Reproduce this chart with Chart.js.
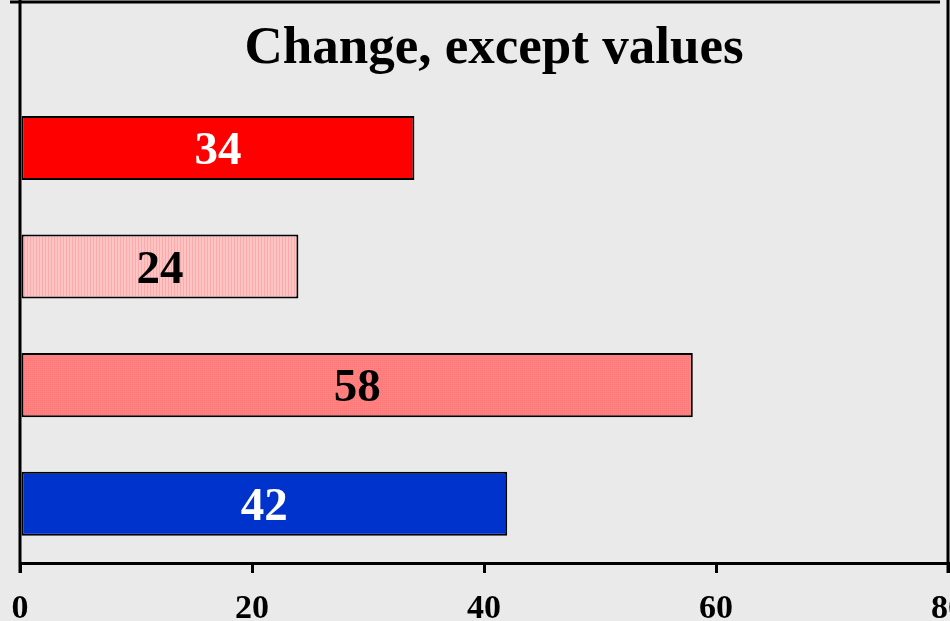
<!DOCTYPE html>
<html>
<head>
<meta charset="utf-8">
<script src="https://cdn.jsdelivr.net/npm/chart.js@4/dist/chart.umd.min.js"></script>
<style>
  html, body { margin: 0; padding: 0; overflow: hidden; background: #eaeaea; }
  #wrap { position: absolute; left: 0; top: 0; width: 968px; height: 646px; }
</style>
</head>
<body>
<div id="wrap"><canvas id="chart"></canvas></div>
<script>
// values, top bar first
const categories = ['A', 'B', 'C', 'D'];
const values = [34, 24, 58, 42];
const xTicks = [0, 20, 40, 60, 80];
const titleText = 'Change, except values';

const SERIF = "'Liberation Serif', 'Times New Roman', serif";

// fine hatch fills like the old office-chart textures
function stripes(base, line, w) {
  const c = document.createElement('canvas');
  c.width = w; c.height = 2;
  const g = c.getContext('2d');
  g.fillStyle = base; g.fillRect(0, 0, w, 2);
  g.fillStyle = line; g.fillRect(0, 0, 1, 2);
  return g.createPattern(c, 'repeat');
}
function dots(base, dot) {
  const c = document.createElement('canvas');
  c.width = 2; c.height = 2;
  const g = c.getContext('2d');
  g.fillStyle = base; g.fillRect(0, 0, 2, 2);
  g.fillStyle = dot; g.fillRect(0, 0, 1, 1);
  return g.createPattern(c, 'repeat');
}

const fills = ['#ff0000', stripes('#ffc4c4', '#ffaaaa', 3), dots('#ff8282', '#ff7676'), '#0033cc'];
const labelColors = ['#ffffff', '#000000', '#000000', '#ffffff'];

// frame: left axis up to the top, top rule, right rule
const frame = {
  id: 'frame',
  afterDraw(chart) {
    const { ctx, chartArea: a } = chart;
    ctx.save();
    ctx.strokeStyle = '#000';
    ctx.lineWidth = 3;
    ctx.beginPath();
    ctx.moveTo(a.left, 0); ctx.lineTo(a.left, a.bottom + 10);
    ctx.moveTo(10, 2); ctx.lineTo(940, 2);
    ctx.moveTo(a.right, 0); ctx.lineTo(a.right, a.bottom + 10);
    ctx.stroke();
    ctx.restore();
  },
};

// value written in the middle of each bar
const barLabels = {
  id: 'barLabels',
  afterDatasetsDraw(chart) {
    const { ctx } = chart;
    const meta = chart.getDatasetMeta(0);
    ctx.save();
    ctx.font = `bold 47px ${SERIF}`;
    ctx.textAlign = 'center';
    ctx.textBaseline = 'middle';
    meta.data.forEach((bar, i) => {
      ctx.fillStyle = labelColors[i];
      ctx.fillText(String(values[i]), (bar.x + bar.base) / 2, bar.y + 4);
    });
    ctx.restore();
  },
};

new Chart(document.getElementById('chart'), {
  type: 'bar',
  data: {
    labels: categories,
    datasets: [{
      data: values,
      backgroundColor: fills,
      borderColor: '#000',
      borderWidth: 2,
      borderSkipped: false,
      barPercentage: 0.54,
      categoryPercentage: 1,
    }],
  },
  options: {
    indexAxis: 'y',
    responsive: true,
    maintainAspectRatio: false,
    animation: false,
    layout: { padding: { left: 20, right: 0, top: 0, bottom: 0 } },
    plugins: {
      legend: { display: false },
      tooltip: { enabled: false },
      title: {
        display: true,
        text: titleText,
        color: '#000',
        font: { family: SERIF, size: 53, weight: 'bold' },
        padding: { top: 18, bottom: 7 },
      },
    },
    scales: {
      x: {
        min: xTicks[0],
        max: xTicks[xTicks.length - 1],
        afterBuildTicks: (s) => { s.ticks = xTicks.map((v) => ({ value: v })); },
        ticks: { color: '#000', padding: 3, font: { family: SERIF, size: 34, weight: 'bold', lineHeight: 1.97 } },
        grid: { drawOnChartArea: false, drawTicks: true, tickLength: 10, color: '#000', lineWidth: 3 },
        border: { display: true, color: '#000', width: 3 },
      },
      y: { display: false },
    },
  },
  plugins: [frame, barLabels],
});
</script>
</body>
</html>
